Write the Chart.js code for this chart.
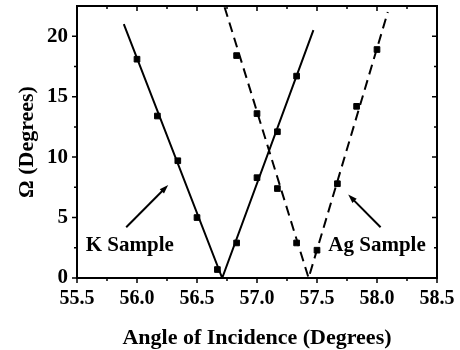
<!DOCTYPE html>
<html lang="en">
<head>
  <meta charset="utf-8">
  <title>Omega vs Angle of Incidence</title>
  <script type="text/javascript" src="https://cdn.jsdelivr.net/npm/chart.js"></script>
  <style type="text/css">
    html, body { margin:0; padding:0; background:#fff; }
    #wrap { width:460px; height:350px; }
  </style>
</head>
<body>
  <div id="wrap"><canvas id="chart" width="460" height="350"></canvas></div>

  <script type="text/javascript">
    // measured points
    const K_X = [56.0, 56.17, 56.34, 56.5, 56.67, 56.83, 57.0, 57.17, 57.33];
    const K_Y = [18.1, 13.4, 9.7, 5.0, 0.7, 2.9, 8.3, 12.1, 16.7];
    const AG_X = [56.83, 57.0, 57.17, 57.33, 57.5, 57.67, 57.83, 58.0];
    const AG_Y = [18.4, 13.6, 7.4, 2.9, 2.3, 7.8, 14.2, 18.9];

    // fitted V lines
    const K_FIT_X = [55.89, 56.71, 57.47];
    const K_FIT_Y = [21.0, 0, 20.5];
    const AG_FIT_X = [56.73, 57.43, 58.09];
    const AG_FIT_Y = [22.4, 0, 22.0];

    // ticks
    const X_MAJOR = [55.5, 56.0, 56.5, 57.0, 57.5, 58.0, 58.5];
    const X_MINOR = [55.75, 56.25, 56.75, 57.25, 57.75, 58.25];
    const Y_MAJOR = [0, 5, 10, 15, 20];
    const Y_MINOR = [2.5, 7.5, 12.5, 17.5];

    // annotations: [text, x, y], arrows: [tailX, tailY, headX, headY]
    const LABELS = [['K Sample', 55.94, 2.65], ['Ag Sample', 58.0, 2.7]];
    const ARROWS = [[55.91, 4.2, 56.26, 7.7], [58.03, 4.2, 57.76, 6.9]];

    const FONT = '"Liberation Serif", "Times New Roman", serif';
    const pts = (xs, ys) => xs.map((x, i) => ({ x, y: ys[i] }));

    const frame = {
      id: 'frame',
      afterDatasetsDraw(chart) {
        const { ctx, chartArea: a, scales: { x, y } } = chart;
        ctx.save();
        ctx.strokeStyle = '#000';
        ctx.fillStyle = '#000';
        ctx.lineWidth = 2;
        ctx.strokeRect(a.left, a.top, a.right - a.left, a.bottom - a.top);

        ctx.lineWidth = 1.5;
        const xt = (v, len) => {
          const px = x.getPixelForValue(v);
          ctx.beginPath();
          ctx.moveTo(px, a.bottom); ctx.lineTo(px, a.bottom + len);
          ctx.moveTo(px, a.top); ctx.lineTo(px, a.top + len);
          ctx.stroke();
        };
        const yt = (v, len) => {
          const py = y.getPixelForValue(v);
          ctx.beginPath();
          ctx.moveTo(a.left, py); ctx.lineTo(a.left - len, py);
          ctx.moveTo(a.right, py); ctx.lineTo(a.right - len, py);
          ctx.stroke();
        };
        X_MAJOR.forEach(v => xt(v, 5));
        X_MINOR.forEach(v => xt(v, 3));
        Y_MAJOR.forEach(v => yt(v, 5));
        Y_MINOR.forEach(v => yt(v, 3));

        // arrows
        ctx.lineWidth = 2;
        ARROWS.forEach(([tx, ty, hx, hy]) => {
          const x0 = x.getPixelForValue(tx), y0 = y.getPixelForValue(ty);
          const x1 = x.getPixelForValue(hx), y1 = y.getPixelForValue(hy);
          const ang = Math.atan2(y1 - y0, x1 - x0);
          ctx.beginPath();
          ctx.moveTo(x0, y0);
          ctx.lineTo(x1 - 6 * Math.cos(ang), y1 - 6 * Math.sin(ang));
          ctx.stroke();
          ctx.beginPath();
          ctx.moveTo(x1, y1);
          ctx.lineTo(x1 - 9 * Math.cos(ang) + 3 * Math.sin(ang), y1 - 9 * Math.sin(ang) - 3 * Math.cos(ang));
          ctx.lineTo(x1 - 9 * Math.cos(ang) - 3 * Math.sin(ang), y1 - 9 * Math.sin(ang) + 3 * Math.cos(ang));
          ctx.closePath();
          ctx.fill();
        });

        ctx.font = 'bold 21px ' + FONT;
        ctx.textAlign = 'center';
        ctx.textBaseline = 'middle';
        LABELS.forEach(([t, vx, vy]) => ctx.fillText(t, x.getPixelForValue(vx), y.getPixelForValue(vy)));
        ctx.restore();
      }
    };

    new Chart(document.getElementById('chart'), {
      type: 'scatter',
      data: {
        datasets: [
          { data: pts(K_FIT_X, K_FIT_Y), showLine: true, borderColor: '#000', borderWidth: 2, pointRadius: 0 },
          { data: pts(AG_FIT_X, AG_FIT_Y), showLine: true, borderColor: '#000', borderWidth: 2, borderDash: [10, 6], pointRadius: 0 },
          { data: pts(K_X, K_Y), pointStyle: 'rect', pointRadius: 4, backgroundColor: '#000', borderColor: '#000', borderWidth: 1 },
          { data: pts(AG_X, AG_Y), pointStyle: 'rect', pointRadius: 4, backgroundColor: '#000', borderColor: '#000', borderWidth: 1 }
        ]
      },
      options: {
        responsive: false,
        animation: false,
        devicePixelRatio: 1,
        layout: { padding: { top: 6, right: 23, left: 0, bottom: 0 } },
        plugins: { legend: { display: false }, tooltip: { enabled: false } },
        scales: {
          x: {
            type: 'linear', min: 55.5, max: 58.5,
            grid: { display: false, drawTicks: false },
            border: { display: false },
            afterBuildTicks: s => { s.ticks = X_MAJOR.map(value => ({ value })); },
            afterFit: s => { s.height = 72; s.paddingLeft = 0; s.paddingRight = 0; },
            ticks: { color: '#000', padding: 9, maxRotation: 0, autoSkip: false,
                     font: { family: FONT, size: 20, weight: 'bold' },
                     callback: v => Number(v).toFixed(1) },
            title: { display: true, text: 'Angle of Incidence (Degrees)', color: '#000',
                     font: { family: FONT, size: 22, weight: 'bold' }, padding: { top: 0, bottom: -2 } }
          },
          y: {
            type: 'linear', min: 0, max: 22.5,
            grid: { display: false, drawTicks: false },
            border: { display: false },
            afterBuildTicks: s => { s.ticks = Y_MAJOR.map(value => ({ value })); },
            afterFit: s => { s.width = 77; s.paddingTop = 0; s.paddingBottom = 0; },
            ticks: { color: '#000', padding: 9, autoSkip: false,
                     font: { family: FONT, size: 21, weight: 'bold' } },
            title: { display: true, text: 'Ω (Degrees)', color: '#000',
                     font: { family: FONT, size: 22, weight: 'bold' }, padding: { top: 14, bottom: 0 } }
          }
        }
      },
      plugins: [frame]
    });
  </script>
</body>
</html>
